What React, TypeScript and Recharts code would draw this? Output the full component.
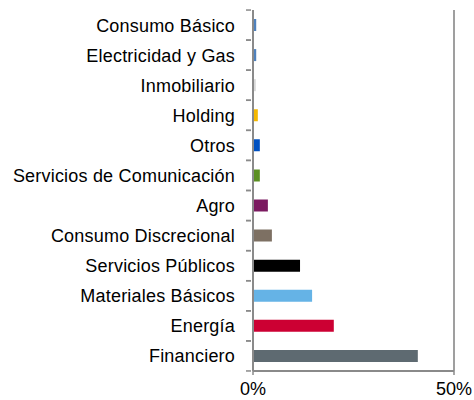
import { BarChart, Bar, XAxis, YAxis, CartesianGrid, Cell, ReferenceLine } from 'recharts'

const sectors = [
  'Consumo Básico',
  'Electricidad y Gas',
  'Inmobiliario',
  'Holding',
  'Otros',
  'Servicios de Comunicación',
  'Agro',
  'Consumo Discrecional',
  'Servicios Públicos',
  'Materiales Básicos',
  'Energía',
  'Financiero',
]

const weights = [0.8, 0.8, 0.7, 1.2, 1.7, 1.7, 3.7, 4.7, 11.7, 14.7, 20.1, 41.0]

const sectorColors = [
  '#4F81BD',
  '#4F81BD',
  '#D9D9D9',
  '#F5B800',
  '#0050C0',
  '#5B8F22',
  '#7B1A60',
  '#7D7063',
  '#000000',
  '#65B3E6',
  '#CC0033',
  '#5E6A71',
]

const xTicks = [0, 50]

const data = sectors.map((name, i) => ({ name, value: weights[i] }))

const FONT = '"Liberation Sans", Arial, sans-serif'
const BAND = 30
const AXIS = '#8a8a8a'

function SectorTick({ x, y, payload }: any) {
  return (
    <g>
      <line x1={x - 5} x2={x} y1={y - BAND / 2} y2={y - BAND / 2} stroke={AXIS} strokeWidth={1.5} />
      <line x1={x - 5} x2={x} y1={y + BAND / 2} y2={y + BAND / 2} stroke={AXIS} strokeWidth={1.5} />
      <text
        x={x - 16}
        y={y}
        dy="0.36em"
        textAnchor="end"
        fill="#000"
        fontSize={18}
        fontFamily={FONT}
        letterSpacing={0.2}
      >
        {payload.value}
      </text>
    </g>
  )
}

function PercentTick({ x, y, payload }: any) {
  return (
    <text x={x} y={y + 20} textAnchor="middle" fill="#000" fontSize={18} fontFamily={FONT}>
      {`${payload.value}%`}
    </text>
  )
}

export default function App() {
  return (
    <div style={{ position: 'absolute', left: 0, top: 0, width: 474, height: 400, background: '#fff' }}>
      <BarChart
        width={474}
        height={400}
        data={data}
        layout="vertical"
        margin={{ top: 10, right: 20, bottom: 0, left: 0 }}
        barCategoryGap={0}
      >
        <CartesianGrid horizontal={false} stroke="#999" strokeWidth={1.5} />
        <ReferenceLine x={50} stroke="#999" strokeWidth={1.5} />
        <XAxis
          type="number"
          domain={[0, 50]}
          ticks={xTicks}
          height={29}
          axisLine={{ stroke: AXIS, strokeWidth: 2 }}
          tickLine={{ stroke: AXIS, strokeWidth: 1.5 }}
          tickSize={4}
          tickMargin={0}
          tick={<PercentTick />}
        />
        <YAxis
          type="category"
          dataKey="name"
          width={253}
          axisLine={{ stroke: AXIS, strokeWidth: 2 }}
          tickLine={false}
          tickSize={0}
          tick={<SectorTick />}
          interval={0}
        />
        <Bar dataKey="value" barSize={12} isAnimationActive={false}>
          {data.map((d, i) => (
            <Cell key={d.name} fill={sectorColors[i]} />
          ))}
        </Bar>
      </BarChart>
    </div>
  )
}
